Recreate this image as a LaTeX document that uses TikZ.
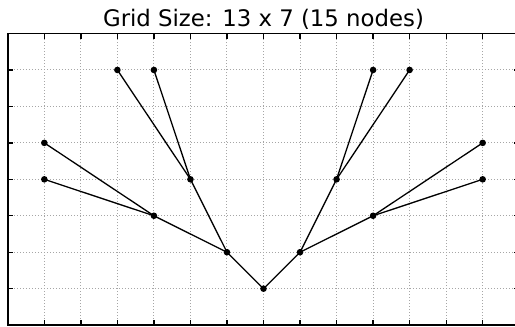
\documentclass[tikz,border=0pt]{standalone}
\usepackage{fontspec}
\newfontfamily\titlefont{DejaVu Sans}
\begin{document}
\begin{tikzpicture}[x=36.53pt,y=36.45pt,
  dot/.style={circle,fill=black,inner sep=0pt,minimum size=6.6pt},
  edge/.style={line width=1.3pt,black},
  gridline/.style={line width=1pt,black!35,dash pattern=on 1.1pt off 1.9pt},
  tick/.style={line width=1.3pt,black},
  spine/.style={line width=1.5pt,black}]
\useasboundingbox (-0.2135,-0.0508) rectangle (13.885,8.920);
\clip (-0.2135,-0.0508) rectangle (13.885,8.920);
% grid
\foreach \i in {1,...,13} \draw[gridline] (\i,0) -- (\i,8);
\foreach \j in {1,...,7} \draw[gridline] (0,\j) -- (14,\j);
% ticks
\foreach \i in {1,...,13} {
  \draw[tick] (\i,0) -- ++(0,5pt);
  \draw[tick] (\i,8) -- ++(0,-5pt);
}
\foreach \j in {1,...,7} {
  \draw[tick] (0,\j) -- ++(5pt,0);
  \draw[tick] (14,\j) -- ++(-5pt,0);
}
% spines
\draw[spine] (0,0) rectangle (14,8);
% title
\node[anchor=base,inner sep=0pt,font=\titlefont\fontsize{22.8}{27}\selectfont] (title) at (7,8.18) {Grid Size: 13 x 7 (15 nodes)};
% nodes
\node[dot] (a) at (7,1) {};
\node[dot] (b) at (6,2) {};
\node[dot] (c) at (8,2) {};
\node[dot] (d) at (4,3) {};
\node[dot] (e) at (10,3) {};
\node[dot] (f) at (5,4) {};
\node[dot] (g) at (9,4) {};
\node[dot] (h) at (1,4) {};
\node[dot] (i) at (13,4) {};
\node[dot] (j) at (1,5) {};
\node[dot] (k) at (13,5) {};
\node[dot] (l) at (3,7) {};
\node[dot] (m) at (4,7) {};
\node[dot] (n) at (10,7) {};
\node[dot] (o) at (11,7) {};
% edges
\draw[edge] (a.center) -- (b.center);
\draw[edge] (a.center) -- (c.center);
\draw[edge] (b.center) -- (d.center);
\draw[edge] (b.center) -- (f.center);
\draw[edge] (d.center) -- (h.center);
\draw[edge] (d.center) -- (j.center);
\draw[edge] (f.center) -- (l.center);
\draw[edge] (f.center) -- (m.center);
\draw[edge] (c.center) -- (e.center);
\draw[edge] (c.center) -- (g.center);
\draw[edge] (e.center) -- (i.center);
\draw[edge] (e.center) -- (k.center);
\draw[edge] (g.center) -- (n.center);
\draw[edge] (g.center) -- (o.center);
\end{tikzpicture}
\end{document}
